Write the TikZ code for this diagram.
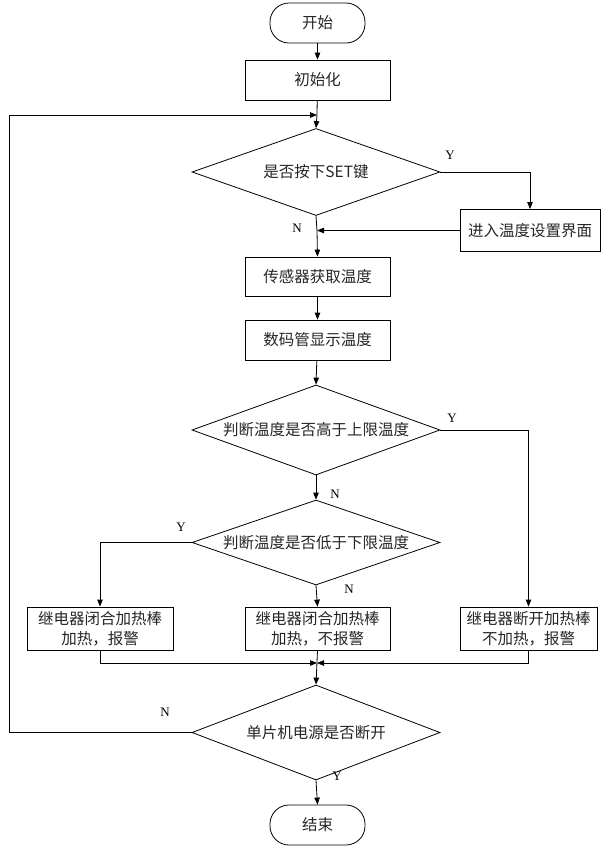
\documentclass[tikz,border=0pt]{standalone}
\usepackage{fontspec}
\setmainfont{Liberation Serif}
\newfontfamily\cjk{Noto Sans CJK SC}
\usetikzlibrary{shapes.geometric,arrows.meta}
\begin{document}
\begin{tikzpicture}[x=1pt,y=-1pt,
  every node/.style={font=\cjk\fontsize{15.5}{20}\selectfont, text=black!85},
  box/.style={draw, rectangle, inner sep=0pt, align=center},
  term/.style={draw, rectangle, rounded corners=19pt, minimum width=95pt, minimum height=40pt, inner sep=0pt},
  dec/.style={draw, diamond, inner sep=0pt, aspect=2.8},
  lbl/.style={font=\fontsize{13}{15}\selectfont, text=black},
  arr/.style={-{Triangle[length=7pt,width=5.5pt]}},
  every path/.style={line width=0.8pt}
]
\useasboundingbox (0,0) rectangle (606,847);

\node[term] (start) at (317.5,23) {开始};
\node[box, minimum width=145pt, minimum height=40pt] (init) at (317.5,80) {初始化};
\node[dec, minimum width=248pt, minimum height=87pt] (d1) at (316,172) {是否按下SET键};
\node[box, minimum width=140pt, minimum height=42pt] (set) at (530,230.5) {进入温度设置界面};
\node[box, minimum width=145pt, minimum height=39pt] (sensor) at (317.5,276.5) {传感器获取温度};
\node[box, minimum width=145pt, minimum height=40pt] (disp) at (317.5,340) {数码管显示温度};
\node[dec, minimum width=248pt, minimum height=90pt] (d2) at (316,430) {判断温度是否高于上限温度};
\node[dec, minimum width=248pt, minimum height=85pt] (d3) at (316,542.5) {判断温度是否低于下限温度};
\node[box, minimum width=146pt, minimum height=43pt] (b1) at (100,628.5) {继电器闭合加热棒\\加热，报警};
\node[box, minimum width=145pt, minimum height=43pt] (b2) at (317.5,628.5) {继电器闭合加热棒\\加热，不报警};
\node[box, minimum width=137pt, minimum height=43pt] (b3) at (528.5,628.5) {继电器断开加热棒\\不加热，报警};
\node[dec, minimum width=248pt, minimum height=95pt] (d4) at (316,732.5) {单片机电源是否断开};
\node[term] (end) at (317.5,825) {结束};

\coordinate (j1) at (317,115);
\coordinate (j2) at (317,230.5);
\coordinate (j3) at (317,663);

\draw[arr] (start) -- (init);
\draw (init) -- (j1);
\draw[arr] (j1) -- (d1.north);
\draw[arr] (d1.east) -| (set.north);
\draw (d1.south) -- (j2);
\draw[arr] (set.west) -- (j2);
\draw[arr] (j2) -- (sensor.north);
\draw[arr] (sensor) -- (disp);
\draw[arr] (disp) -- (d2.north);
\draw[arr] (d2.east) -| (b3.north);
\draw[arr] (d2.south) -- (d3.north);
\draw[arr] (d3.west) -| (b1.north);
\draw[arr] (d3.south) -- (b2.north);
\draw[arr] (b1.south) |- (j3);
\draw[arr] (b3.south) |- (j3);
\draw[arr] (b2.south) -- (d4.north);
\draw[arr] (d4.south) -- (end.north);
\draw[arr] (d4.west) -- ++(-182,0) |- (j1);

\node[lbl] (y1) at (450,155) {Y};
\node[lbl] (n1) at (297,228) {N};
\node[lbl] (y2) at (452,418) {Y};
\node[lbl] (n2) at (335,494) {N};
\node[lbl] (y3) at (181,527) {Y};
\node[lbl] (n3) at (349,589) {N};
\node[lbl] (n4) at (165,712) {N};
\node[lbl] (y4) at (337,776) {Y};
\end{tikzpicture}
\end{document}
